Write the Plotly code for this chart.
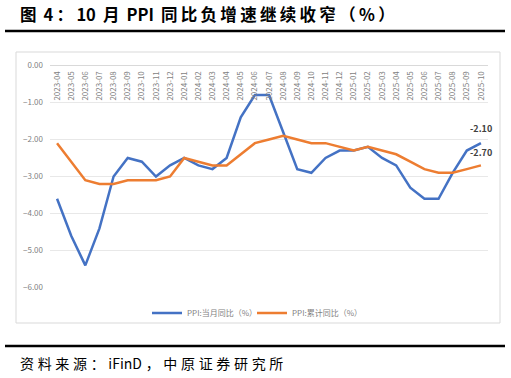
import plotly.graph_objects as go

months = ["2023-04","2023-05","2023-06","2023-07","2023-08","2023-09","2023-10","2023-11","2023-12",
          "2024-01","2024-02","2024-03","2024-04","2024-05","2024-06","2024-07","2024-08","2024-09",
          "2024-10","2024-11","2024-12","2025-01","2025-02","2025-03","2025-04","2025-05","2025-06",
          "2025-07","2025-08","2025-09","2025-10"]
ppi_yoy = [-3.6,-4.6,-5.4,-4.4,-3.0,-2.5,-2.6,-3.0,-2.7,
           -2.5,-2.7,-2.8,-2.5,-1.4,-0.8,-0.8,-1.8,-2.8,
           -2.9,-2.5,-2.3,-2.3,-2.2,-2.5,-2.7,-3.3,-3.6,
           -3.6,-2.9,-2.3,-2.1]
ppi_cum = [-2.1,-2.6,-3.1,-3.2,-3.2,-3.1,-3.1,-3.1,-3.0,
           -2.5,-2.6,-2.7,-2.7,-2.4,-2.1,-2.0,-1.9,-2.0,
           -2.1,-2.1,-2.2,-2.3,-2.2,-2.3,-2.4,-2.6,-2.8,
           -2.9,-2.9,-2.8,-2.7]
y_ticks = [0, -1, -2, -3, -4, -5, -6]
name_yoy = "PPI:当月同比（%）"
name_cum = "PPI:累计同比（%）"
title_text = "图 4：10 月 PPI 同比负增速继续收窄（%）"
source_text = "资料来源：iFinD，中原证券研究所"

W, H = 511, 378
BLUE = "#4472C4"
ORANGE = "#ED7D31"
CJK = "Noto Sans CJK SC"


def spaced(s, sp="\u2009"):
    out = []
    for i, ch in enumerate(s):
        out.append(ch)
        if i < len(s) - 1 and (ord(ch) > 0x2E80 or ord(s[i + 1]) > 0x2E80):
            out.append(sp)
    return "".join(out)


fig = go.Figure()
fig.add_trace(go.Scatter(x=months, y=ppi_yoy, mode="lines", name=name_yoy,
                         line=dict(color=BLUE, width=2.5)))
fig.add_trace(go.Scatter(x=months, y=ppi_cum, mode="lines", name=name_cum,
                         line=dict(color=ORANGE, width=2.5)))

# data labels for latest values
fig.add_annotation(x=months[-1], y=ppi_yoy[-1], text=f"{ppi_yoy[-1]:.2f}", showarrow=False,
                   yshift=15, font=dict(family=CJK, size=9, color="#404040", weight="bold"))
fig.add_annotation(x=months[-1], y=ppi_cum[-1], text=f"{ppi_cum[-1]:.2f}", showarrow=False,
                   yshift=13, font=dict(family=CJK, size=9, color="#404040", weight="bold"))

px0, px1 = 50, 488
py0, py1 = 65, 288
fig.update_layout(
    template="none",
    width=W, height=H, margin=dict(l=0, r=0, t=0, b=0, autoexpand=False),
    paper_bgcolor="white", plot_bgcolor="white",
    showlegend=True,
    legend=dict(orientation="h", x=147 / W, xanchor="left", y=1 - 313 / H, yanchor="middle",
                font=dict(family=CJK, size=8, color="#7f7f7f"), itemwidth=30,
                entrywidth=60, entrywidthmode="pixels",
                bgcolor="rgba(0,0,0,0)", borderwidth=0),
    xaxis=dict(domain=[px0 / W, px1 / W], type="category", side="bottom", anchor="free",
               position=1 - py0 / H, automargin=False,
               tickangle=-90, showgrid=False,
               showline=True, linecolor="#d9d9d9", linewidth=1, ticks="",
               range=[-0.5, len(months) - 0.5], ticklabelstandoff=2,
               tickfont=dict(family=CJK, size=8, color="#7f7f7f")),
    yaxis=dict(domain=[1 - py1 / H, 1 - py0 / H], range=[-6.01, 0.01], automargin=False,
               tickvals=y_ticks, tickformat=".2f", showgrid=True, gridcolor="#e8e8e8",
               gridwidth=1, zeroline=False, showline=False, ticks="",
               tickfont=dict(family=CJK, size=8, color="#7f7f7f"), ticklabelstandoff=6),
)

# Chart box
fig.add_shape(type="rect", xref="paper", yref="paper", x0=16 / W, x1=500 / W,
              y0=1 - 323 / H, y1=1 - 52 / H, line=dict(color="#d9d9d9", width=1), layer="below")
# Title rules
fig.add_shape(type="line", xref="paper", yref="paper", x0=5 / W, x1=505 / W,
              y0=1 - 31 / H, y1=1 - 31 / H, line=dict(color="black", width=2.5))
fig.add_shape(type="line", xref="paper", yref="paper", x0=5 / W, x1=505 / W,
              y0=1 - 346 / H, y1=1 - 346 / H, line=dict(color="black", width=2.5))

fig.add_annotation(xref="paper", yref="paper", x=18 / W, y=1 - 14 / H, xanchor="left",
                   yanchor="middle", showarrow=False,
                   text=spaced(title_text),
                   font=dict(family=CJK, size=16.5, color="black", weight="bold"))
fig.add_annotation(xref="paper", yref="paper", x=18 / W, y=1 - 363 / H, xanchor="left",
                   yanchor="middle", showarrow=False,
                   text=spaced(source_text, "\u2009\u200a"),
                   font=dict(family=CJK, size=14, color="black"))

fig.write_html("out.html", config={"displayModeBar": False},
               post_script="document.body.style.margin='0px';")
